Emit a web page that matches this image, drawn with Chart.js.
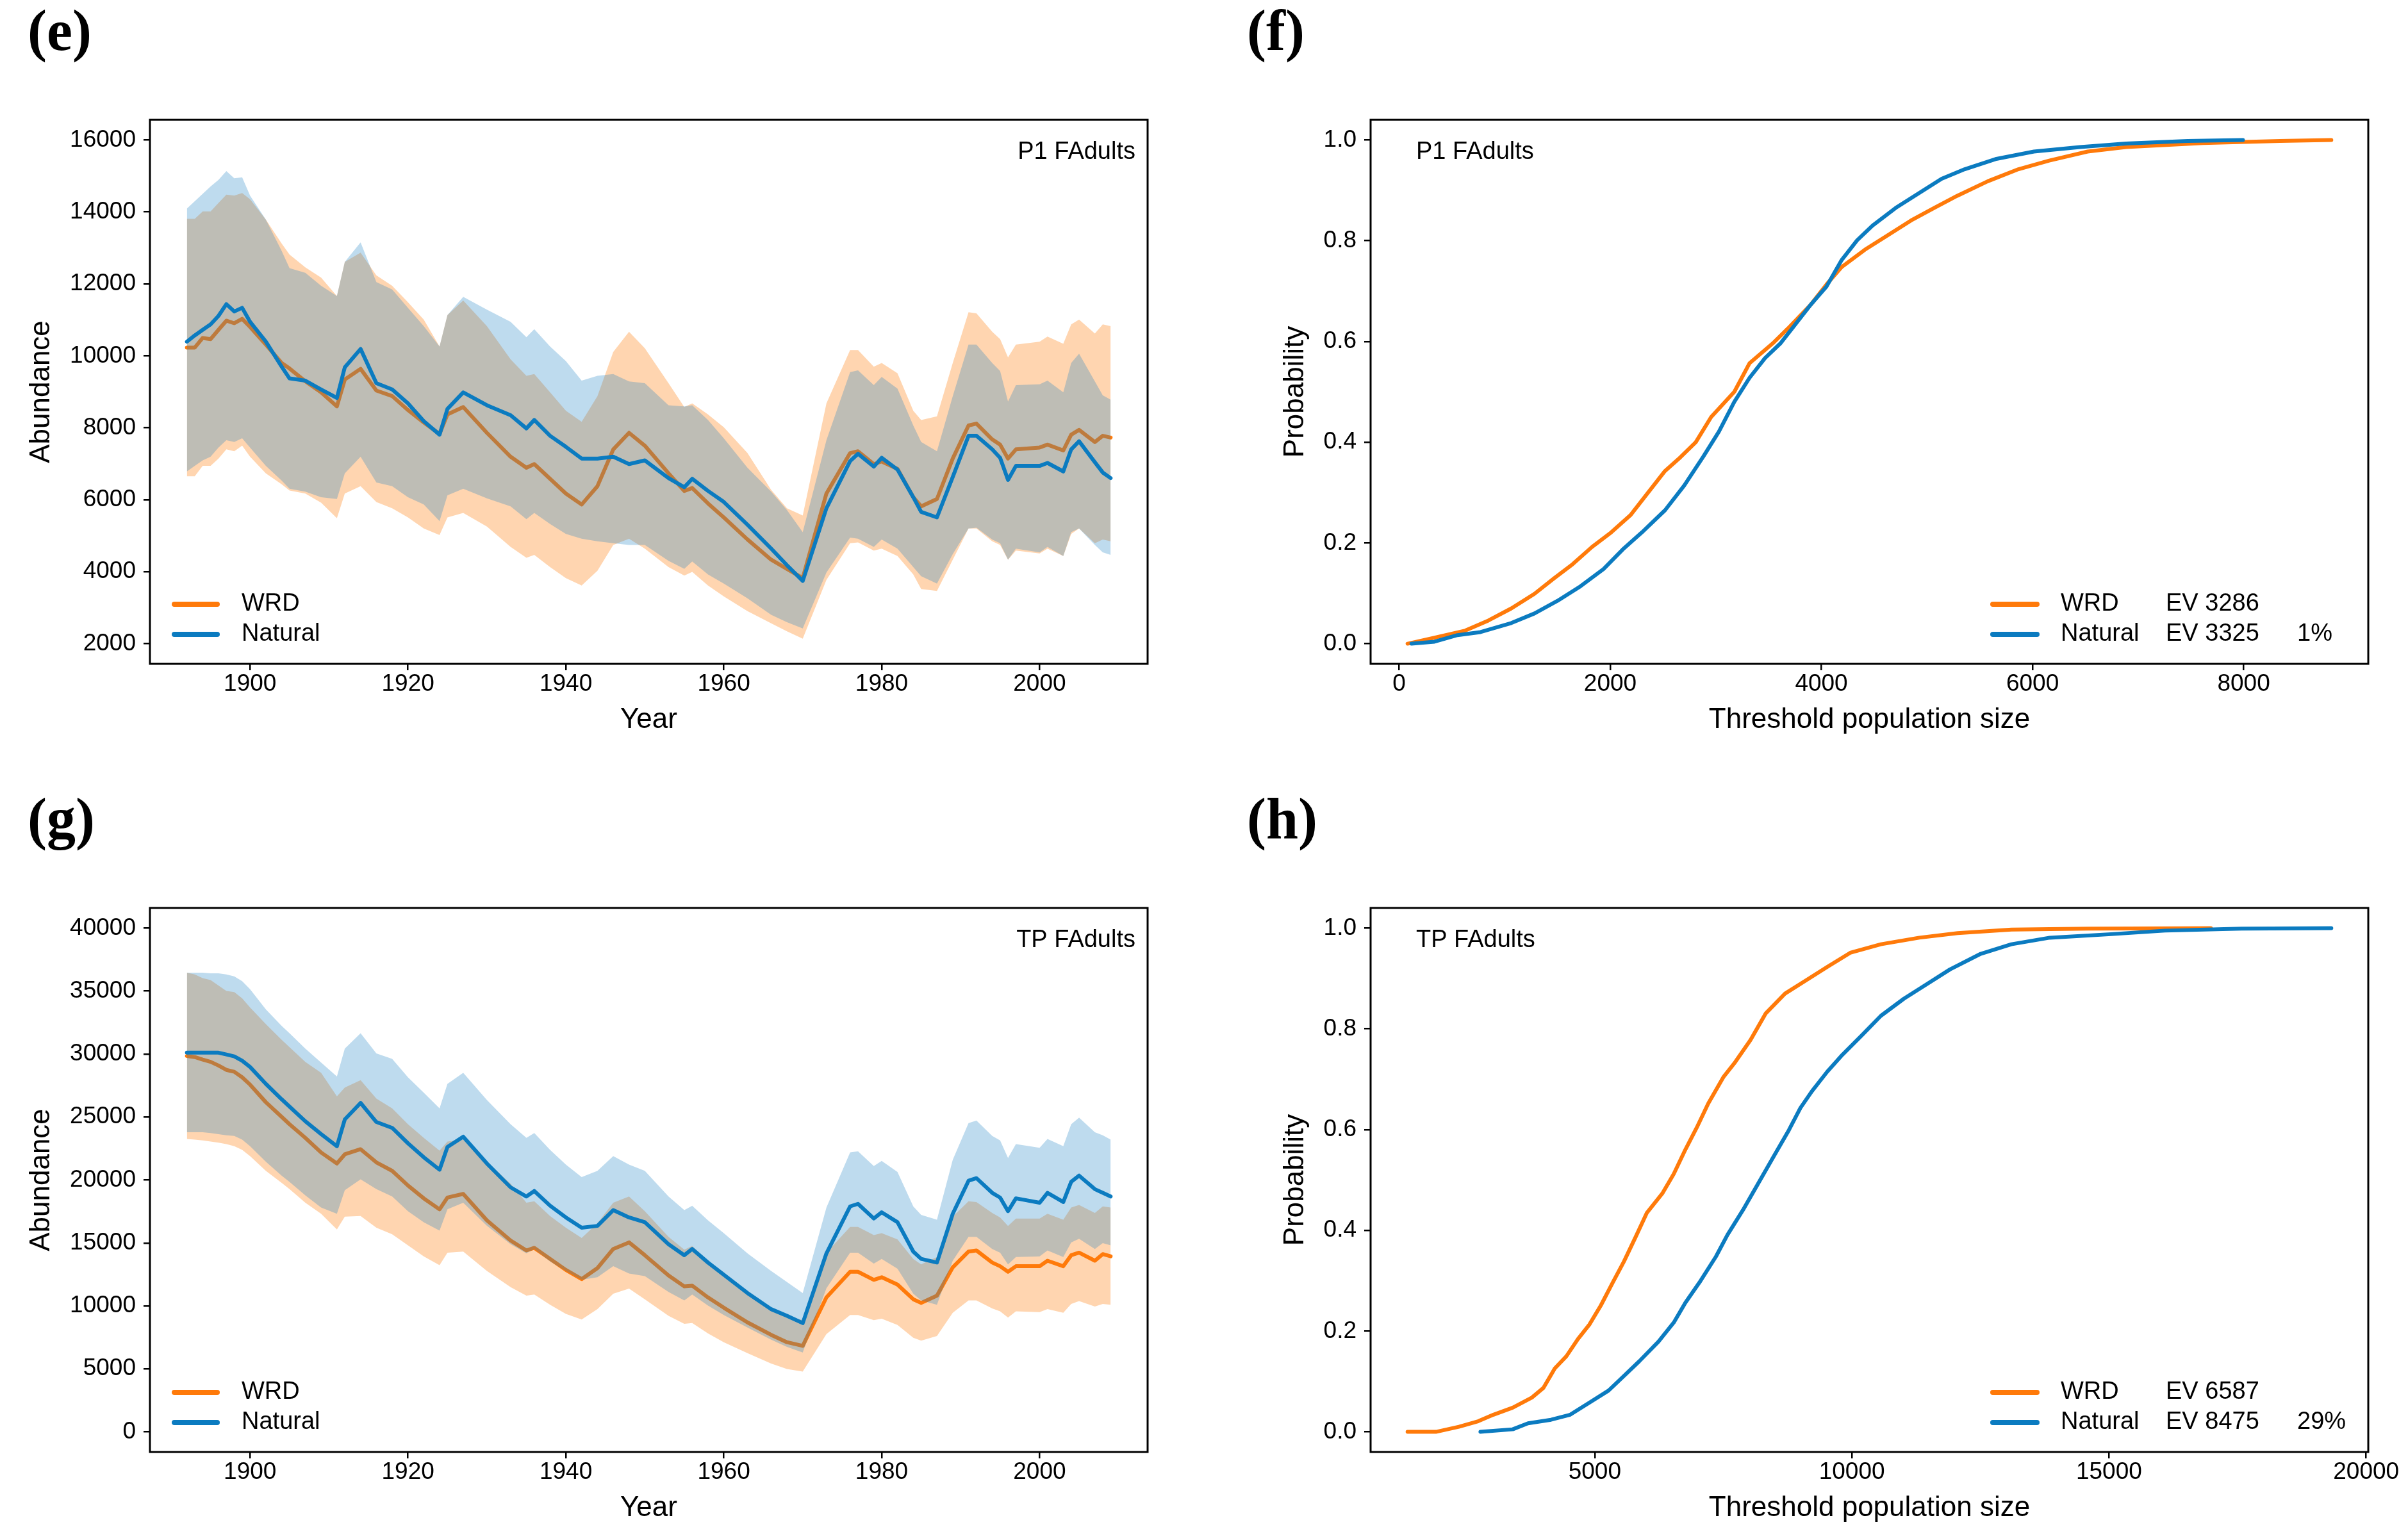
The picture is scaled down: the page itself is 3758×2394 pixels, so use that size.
<!DOCTYPE html>
<html>
<head>
<meta charset="utf-8">
<script src="https://cdn.jsdelivr.net/npm/chart.js@4.4.1/dist/chart.umd.min.js"></script>
<style>
  body { margin: 0; background: #fff; }
  #page { position: relative; width: 3758px; height: 2394px; background: #fff; overflow: hidden; }
  #page canvas { position: absolute; }
</style>
</head>
<body>
<div id="page">
  <canvas id="chart-e" width="1879" height="1164" style="left:0px;top:2px"></canvas>
  <canvas id="chart-f" width="1879" height="1164" style="left:1879px;top:2px"></canvas>
  <canvas id="chart-g" width="1879" height="1164" style="left:0px;top:1232px"></canvas>
  <canvas id="chart-h" width="1879" height="1164" style="left:1879px;top:1232px"></canvas>
</div>
<script>
// years shared by the abundance panels (e) and (g)
const years = [1892,1893,1894,1895,1896,1897,1898,1899,1900,1902,1904,1905,1907,1909,
  1911,1912,1914,1916,1918,1920,1922,1924,1925,1927,1930,1933,1935,1936,1938,1940,1942,
  1944,1946,1948,1950,1953,1955,1956,1958,1960,1963,1966,1968,1970,1973,1976,1977,1979,1980,1982,
  1984,1985,1987,1989,1991,1992,1994,1995,1996,1997,2000,2001,2003,2004,2005,2007,2008,2009];

// (e) P1 FAdults
const eWrdMean = [10231,10231,10497,10466,10722,10978,10906,11029,10804,10313,9802,9649,9291,8985,
  8596,9342,9639,9036,8882,8494,8147,7830,8371,8576,7860,7196,6890,6992,6583,6174,5868,
  6379,7400,7860,7503,6736,6245,6327,5898,5510,4897,4335,4079,3824,6174,7298,7349,6992,7063,6859,
  6072,5816,6021,7145,8065,8116,7677,7533,7145,7400,7452,7533,7370,7810,7942,7605,7779,7728];
const eWrdLow = [6654,6654,6941,6941,7145,7401,7350,7503,7196,6736,6430,6256,6174,5919,
  5489,6174,6379,5939,5765,5510,5203,5019,5510,5633,5254,4692,4386,4467,4130,3823,3619,
  4028,4743,4917,4641,4130,3895,3997,3619,3313,2904,2566,2342,2137,3772,4794,4815,4590,4641,4437,
  3926,3517,3466,4335,5203,5203,4846,4743,4335,4590,4508,4641,4437,5050,5203,4794,4897,4846];
const eWrdHigh = [13808,13808,14013,14013,14248,14483,14452,14524,14350,13788,13124,12817,12459,12173,
  11662,12613,12868,12235,11948,11489,11008,10262,11131,11540,10824,9904,9445,9496,8985,8474,8167,
  8882,10109,10671,10211,9240,8576,8678,8371,8014,7298,6276,5765,5561,8678,10160,10160,9700,9802,9516,
  8474,8218,8320,9802,11213,11182,10671,10466,9956,10313,10395,10538,10334,10875,11008,10620,10875,10824];
const eNatMean = [10394,10568,10722,10875,11110,11437,11233,11335,10947,10394,9700,9373,9311,9066,
  8831,9680,10191,9240,9066,8678,8187,7809,8525,8985,8627,8351,7983,8218,7778,7472,7145,
  7145,7196,6992,7094,6603,6348,6583,6246,5940,5306,4642,4182,3743,5765,7074,7278,6921,7166,6839,
  6072,5663,5510,6634,7779,7779,7401,7166,6553,6941,6941,7023,6787,7401,7626,7043,6757,6603];
const eNatLow = [6787,6941,7094,7196,7452,7656,7605,7707,7452,6941,6532,6307,6225,6072,
  6021,6736,7196,6481,6379,6072,5868,5408,6123,6307,6041,5816,5459,5633,5326,5050,4917,
  4846,4794,4743,4743,4304,4079,4283,3926,3670,3261,2802,2597,2424,3977,4948,4917,4692,4897,4641,
  4130,3874,3670,4488,5203,5224,4897,4794,4335,4641,4539,4692,4437,5101,5203,4743,4539,4467];
const eNatHigh = [14095,14299,14503,14708,14892,15137,14933,14963,14452,13788,12919,12439,12306,11948,
  11662,12613,13154,12051,11846,11335,10824,10262,11131,11642,11284,10947,10518,10743,10262,9853,9312,
  9445,9496,9291,9240,8627,8596,8627,8218,7707,6890,6225,5714,5101,7656,9546,9598,9189,9414,9087,
  8065,7605,7349,8882,10313,10313,9802,9577,8729,9189,9210,9312,8985,9802,10058,9291,8903,8780];

// (g) TP FAdults
const gWrdMean = [29848,29760,29556,29381,29090,28740,28595,28157,27575,26176,25010,24427,23349,22183,
  21309,22038,22446,21397,20726,19561,18541,17667,18604,18891,16793,15190,14403,14608,13733,12859,12130,
  13005,14520,15044,14024,12421,11548,11606,10673,9857,8692,7701,7118,6827,10673,12713,12713,12072,12276,11693,
  10527,10236,10819,13062,14316,14403,13442,13150,12713,13150,13150,13587,13150,14024,14228,13587,14112,13937];
const gWrdLow = [23262,23204,23145,23058,22970,22854,22679,22387,21892,20727,19765,19269,18191,17317,
  16064,17084,17143,16210,15685,14811,13937,13238,14228,14316,12772,11489,10819,10907,10091,9362,8925,
  9741,10965,11373,10527,9216,8575,8634,7817,7118,6244,5428,4991,4787,7759,9275,9275,8867,8984,8488,
  7468,7235,7614,9449,10440,10440,9799,9566,9071,9566,9508,9741,9449,10148,10382,9945,10148,10090];
const gWrdHigh = [36462,36317,36025,35880,35443,35005,34918,34423,33694,32383,31130,30547,29381,28507,
  26642,27341,27924,26467,25681,24427,23349,22329,23058,23204,21455,19707,18192,18308,17143,16210,15394,
  16560,18192,18687,17521,15481,14462,14753,13587,12655,11111,9800,9216,8867,14228,16269,16269,15627,15773,15278,
  13733,13296,13879,17085,18308,18250,17376,17025,16355,16938,16938,17317,16850,17812,18016,17376,17900,17812];
const gNatMean = [30110,30110,30110,30110,30110,29964,29818,29469,28973,27633,26409,25826,24660,23641,
  22679,24806,26118,24602,24136,22912,21805,20814,22621,23436,21309,19415,18687,19124,17958,17025,16210,
  16355,17608,17025,16647,14898,14024,14520,13442,12480,11023,9741,9216,8634,14170,17900,18104,16938,17434,16647,
  14316,13733,13442,17317,19940,20144,18979,18600,17521,18541,18191,18979,18250,19853,20348,19270,18979,18687];
const gNatLow = [23786,23786,23786,23728,23641,23553,23495,23204,22679,21455,20348,19852,18774,17812,
  17317,19182,20056,19270,18687,17521,16647,15977,17667,18192,16356,14898,14170,14520,13529,12772,12072,
  12276,13150,12567,12363,11111,10440,10907,10032,9275,8284,7322,6740,6302,11402,14228,14228,13354,13733,12947,
  10965,10440,10091,13588,15481,15481,14520,14228,13296,13879,13937,14403,13879,15044,15336,14520,14986,14811];
const gNatHigh = [36462,36462,36462,36404,36404,36317,36171,35792,35151,33548,32237,31654,30430,29323,
  28215,30430,31654,30052,29614,28157,26933,25681,27633,28507,26351,24427,23349,23728,22388,21222,20231,
  20726,21892,21222,20726,18687,17608,17958,16793,15773,14170,12771,11897,11023,17812,22184,22271,21105,21513,20639,
  17900,17230,16850,21601,24515,24718,23495,23145,21747,22854,22562,23262,22679,24427,24952,23786,23553,23203];

// (f) P1 FAdults threshold curves
const fWrdSize = [80,336,627,845,1063,1282,1463,1645,1827,2009,2191,2373,2519,2664,2810,2956,3175,3320,
  3538,3684,3903,4048,4193,4411,4630,4848,5067,5285,5576,5867,6158,6522,6886,7614,8342,8830];
const fWrdProb = [0,0.012,0.026,0.046,0.07,0.099,0.129,0.158,0.192,0.221,0.255,0.304,0.343,0.37,0.40,0.45,0.50,0.557,
  0.596,0.626,0.674,0.713,0.748,0.782,0.811,0.84,0.865,0.889,0.918,0.942,0.959,0.977,0.986,0.994,0.998,1.0];
const fNatSize = [117,335,553,771,1063,1282,1500,1718,1936,2118,2300,2519,2701,2883,3029,3175,3320,3466,
  3611,3757,3903,4048,4193,4339,4484,4703,4921,5139,5358,5649,6013,6450,6886,7469,7993];
const fNatProb = [0,0.004,0.017,0.023,0.041,0.06,0.085,0.114,0.148,0.187,0.221,0.265,0.314,0.372,0.421,0.48,0.528,0.567,
  0.596,0.635,0.674,0.709,0.762,0.801,0.83,0.865,0.894,0.923,0.942,0.962,0.977,0.986,0.993,0.998,1.0];

// (h) TP FAdults threshold curves
const hWrdSize = [1360,1912,2359,2732,3030,3404,3777,4000,4224,4448,4672,4896,5119,5343,5567,5791,6015,6313,
  6537,6761,6984,7208,7507,7731,8029,8327,8700,9073,9521,9968,10565,11311,12057,13102,14594,16981];
const hWrdProb = [0,0,0.01,0.021,0.034,0.048,0.068,0.087,0.126,0.15,0.184,0.213,0.251,0.295,0.338,0.386,0.435,0.473,
  0.512,0.56,0.604,0.652,0.705,0.734,0.778,0.831,0.87,0.894,0.923,0.951,0.968,0.981,0.99,0.997,0.999,1.0];
const hNatSize = [2777,3404,3702,4149,4523,4896,5269,5567,5865,6238,6537,6761,7059,7357,7581,7880,8178,8476,
  8775,8999,9222,9521,9819,10192,10565,11013,11460,11908,12505,13102,13848,15041,16086,17578,19323];
const hNatProb = [0,0.005,0.017,0.024,0.034,0.058,0.082,0.111,0.14,0.179,0.217,0.256,0.3,0.348,0.391,0.44,0.493,0.546,
  0.599,0.643,0.676,0.715,0.749,0.787,0.826,0.86,0.889,0.918,0.949,0.968,0.981,0.988,0.995,0.999,1.0];

// tick labels
const yearTicks = [1900,1920,1940,1960,1980,2000];
const eAbundTicks = [2000,4000,6000,8000,10000,12000,14000,16000];
const gAbundTicks = [0,5000,10000,15000,20000,25000,30000,35000,40000];
const probTicks = [0,0.2,0.4,0.6,0.8,1.0];
const fSizeTicks = [0,2000,4000,6000,8000];
const hSizeTicks = [5000,10000,15000,20000];

const seriesNames = ["WRD", "Natural"];
const fEV = ["EV 3286", "EV 3325"];
const hEV = ["EV 6587", "EV 8475"];
const fDiff = "1%";
const hDiff = "29%";

const ORANGE = "#ff7a0a";
const BLUE = "#0b7bc0";
const ORANGE_FILL = "rgba(255,127,14,0.33)";
const BLUE_FILL = "rgba(20,125,195,0.28)";
const SANS = '"Liberation Sans", Arial, sans-serif';

Chart.defaults.font.family = SANS;
Chart.defaults.color = "#000";

function pts(xs, ys){
    return xs.map((x, i) => ({x: x, y: ys[i]}));
}

// R style axis range (4% each side)
function rRange(lo, hi){
    const d = (hi - lo) * 0.04;
    return [lo - d, hi + d];
}

const panelDecor = {
    id: "panelDecor",
    afterDraw(chart, args, o){
        const ctx = chart.ctx;
        const a = chart.chartArea;
        ctx.save();
        ctx.strokeStyle = "#000";
        ctx.lineWidth = 3;
        ctx.strokeRect(a.left, a.top, a.right - a.left, a.bottom - a.top);

        ctx.fillStyle = "#000";
        ctx.font = 'bold 90px "Liberation Serif", "DejaVu Serif", serif';
        ctx.textAlign = "left";
        ctx.textBaseline = "alphabetic";
        ctx.fillText(o.letter, o.letterX, 76);

        ctx.font = "38px " + SANS;
        ctx.textBaseline = "middle";
        ctx.textAlign = o.noteAlign;
        ctx.fillText(o.note, o.noteX, 236);

        ctx.textAlign = "left";
        const rowsY = [941, 988];
        const cols = [ORANGE, BLUE];
        for(let i = 0; i < 2; i += 1){
            ctx.strokeStyle = cols[i];
            ctx.lineWidth = 8;
            ctx.lineCap = "round";
            ctx.beginPath();
            ctx.moveTo(o.lineX[0], rowsY[i]);
            ctx.lineTo(o.lineX[1], rowsY[i]);
            ctx.stroke();
            ctx.fillText(seriesNames[i], o.textX, rowsY[i]);
            if(o.ev){
                ctx.fillText(o.ev[i], o.evX, rowsY[i]);
            }
        }
        if(o.diff){
            ctx.fillText(o.diff, o.diffX, rowsY[1]);
        }
        ctx.restore();
    }
};

function axis(range, ticks, fmt, title, isX, fixedSize, titlePad){
    return {
        type: "linear",
        min: range[0],
        max: range[1],
        afterBuildTicks: s => { s.ticks = ticks.map(v => ({value: v})); },
        afterFit: s => { if(isX){ s.height = fixedSize; } else { s.width = fixedSize; } },
        ticks: {
            font: {size: 37},
            color: "#000",
            padding: isX ? 0 : 12,
            maxRotation: 0,
            autoSkip: false,
            callback: v => fmt(v)
        },
        grid: {drawOnChartArea: false, drawTicks: true, tickLength: 10, color: "#000", lineWidth: 2.5},
        border: {display: false},
        title: {display: true, text: title, color: "#000", font: {size: 44}, padding: titlePad}
    };
}

function lineSet(data, color, order){
    return {data: data, borderColor: color, borderWidth: 6, pointRadius: 0, fill: false,
        tension: 0, borderJoinStyle: "round", borderCapStyle: "round", order: order};
}

function bandSet(data, fillColor, order, fill){
    return {data: data, borderWidth: 0, borderColor: "rgba(0,0,0,0)", pointRadius: 0,
        backgroundColor: fillColor, fill: fill, tension: 0, order: order};
}

function baseOptions(xAxis, yAxis, rightPad, decor){
    return {
        responsive: false,
        animation: false,
        devicePixelRatio: 1,
        events: [],
        layout: {padding: {top: 185, right: rightPad, bottom: 0, left: 0}},
        scales: {x: xAxis, y: yAxis},
        plugins: {legend: {display: false}, tooltip: {enabled: false}, panelDecor: decor}
    };
}

function abundanceChart(id, letter, note, yTicks, yLim, mean1, low1, high1, mean2, low2, high2){
    const xr = rRange(years[0], years[years.length - 1]);
    new Chart(document.getElementById(id), {
        type: "line",
        data: {
            datasets: [
                bandSet(pts(years, low1), ORANGE_FILL, 4, false),
                bandSet(pts(years, high1), ORANGE_FILL, 4, "-1"),
                lineSet(pts(years, mean1), ORANGE, 3),
                bandSet(pts(years, low2), BLUE_FILL, 2, false),
                bandSet(pts(years, high2), BLUE_FILL, 2, "-1"),
                lineSet(pts(years, mean2), BLUE, 1)
            ]
        },
        options: baseOptions(
            axis(xr, yearTicks, v => String(v), "Year", true, 130, {top: 0, bottom: 16}),
            axis(rRange(yLim[0], yLim[1]), yTicks, v => String(v), "Abundance", false, 234, {top: 38, bottom: 0}),
            88,
            {letter: letter, letterX: 43, note: note, noteX: 1772, noteAlign: "right",
             lineX: [272, 339], textX: 377}
        ),
        plugins: [panelDecor]
    });
}

function thresholdChart(id, letter, note, xTicks, x1, p1, x2, p2, ev, diff){
    const lo = Math.min(x1[0], x2[0]);
    const hi = Math.max(x1[x1.length - 1], x2[x2.length - 1]);
    new Chart(document.getElementById(id), {
        type: "line",
        data: {
            datasets: [
                lineSet(pts(x1, p1), ORANGE, 2),
                lineSet(pts(x2, p2), BLUE, 1)
            ]
        },
        options: baseOptions(
            axis(rRange(lo, hi), xTicks, v => String(v), "Threshold population size", true, 130, {top: 0, bottom: 16}),
            axis(rRange(0, 1), probTicks, v => v.toFixed(1), "Probability", false, 260, {top: 116, bottom: 0}),
            62,
            {letter: letter, letterX: 67, note: note, noteX: 331, noteAlign: "left",
             lineX: [1231, 1300], textX: 1337, ev: ev, evX: 1501, diff: diff, diffX: 1706}
        ),
        plugins: [panelDecor]
    });
}

document.addEventListener("DOMContentLoaded", function(){
    abundanceChart("chart-e", "(e)", "P1 FAdults", eAbundTicks, [2000, 16000],
        eWrdMean, eWrdLow, eWrdHigh, eNatMean, eNatLow, eNatHigh);
    thresholdChart("chart-f", "(f)", "P1 FAdults", fSizeTicks, fWrdSize, fWrdProb, fNatSize, fNatProb, fEV, fDiff);
    abundanceChart("chart-g", "(g)", "TP FAdults", gAbundTicks, [0, 40000],
        gWrdMean, gWrdLow, gWrdHigh, gNatMean, gNatLow, gNatHigh);
    thresholdChart("chart-h", "(h)", "TP FAdults", hSizeTicks, hWrdSize, hWrdProb, hNatSize, hNatProb, hEV, hDiff);
});
</script>
</body>
</html>
